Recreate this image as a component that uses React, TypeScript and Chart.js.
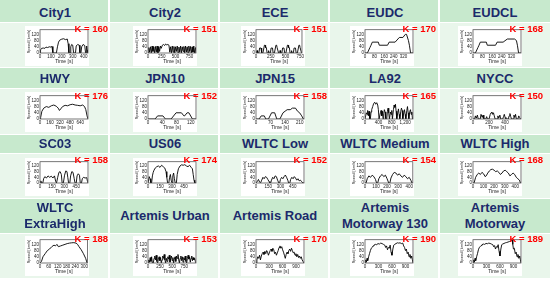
import React, { useEffect, useRef } from 'react';
import { Chart, registerables } from 'chart.js';

Chart.register(...registerables);
Chart.defaults.font.family = "'Liberation Sans', Arial, sans-serif";

type Pt = [number, number];

// ---------- data ----------
const titles = [
  'City1', 'City2', 'ECE', 'EUDC', 'EUDCL',
  'HWY', 'JPN10', 'JPN15', 'LA92', 'NYCC',
  'SC03', 'US06', 'WLTC Low', 'WLTC Medium', 'WLTC High',
  'WLTC\nExtraHigh', 'Artemis Urban', 'Artemis Road', 'Artemis\nMotorway 130', 'Artemis\nMotorway',
];
const kValues = [160, 151, 151, 170, 168, 176, 152, 158, 165, 150, 158, 174, 152, 154, 168, 188, 153, 170, 190, 189];

const yTicks = [0, 40, 80, 120];

const city1Ticks = [0, 100, 200, 300, 400];
const city2Ticks = [0, 250, 500, 750];
const eceTicks = [0, 250, 500, 750];
const eudcTicks = [0, 80, 160, 240, 320];
const eudclTicks = [0, 80, 160, 240, 320];
const hwyTicks = [0, 160, 320, 480, 640];
const jpn10Ticks = [0, 40, 80, 120];
const jpn15Ticks = [0, 70, 140, 210];
const la92Ticks = [0, 400, 800, 1200];
const nyccTicks = [0, 200, 400];
const sc03Ticks = [0, 150, 300, 450];
const us06Ticks = [0, 150, 300, 450];
const wltcLowTicks = [0, 150, 300, 450];
const wltcMedTicks = [0, 100, 200, 300, 400];
const wltcHighTicks = [0, 100, 200, 300, 400];
const wltcXHighTicks = [0, 60, 120, 180, 240, 300];
const artUrbanTicks = [0, 250, 500, 750];
const artRoadTicks = [0, 300, 600, 900];
const artMw130Ticks = [0, 300, 600, 900];
const artMwTicks = [0, 300, 600, 900];

const city1: Pt[] = [[0,0],[5,20],[15,30],[30,32],[45,30],[55,38],[70,35],[85,40],[100,38],[110,42],[118,0],[150,0],[160,40],[170,70],[180,82],[195,88],[215,92],[235,86],[250,90],[258,60],[265,0],[275,0],[282,40],[290,55],[300,50],[308,0],[325,0],[332,45],[345,55],[360,50],[366,0],[375,0],[382,40],[395,55],[410,48],[418,0],[422,0],[428,45],[432,20],[436,0],[440,0]];
const city2: Pt[] = [[0,0],[15,35],[30,5],[45,40],[60,0],[75,45],[90,10],[105,40],[120,0],[135,42],[150,5],[165,45],[180,0],[195,40],[210,10],[225,45],[240,30],[260,50],[280,55],[300,48],[320,58],[340,52],[360,55],[380,50],[395,5],[410,40],[425,0],[440,45],[455,5],[470,42],[485,0],[500,40],[515,10],[530,45],[545,0],[560,38],[575,5],[590,45],[605,0],[620,40],[635,10],[650,42],[665,0],[680,45],[695,5],[710,40],[725,0],[740,45],[755,10],[770,42],[785,0],[800,40],[815,5],[830,45],[845,0],[860,35],[870,0]];
const ece: Pt[] = [[0,0],[11,0],[15,15],[23,15],[28,0],[49,0],[61,32],[85,32],[96,0],[117,0],[143,50],[155,50],[163,35],[176,35],[188,0],[206,0],[210,15],[218,15],[223,0],[244,0],[256,32],[280,32],[291,0],[312,0],[338,50],[350,50],[358,35],[371,35],[383,0],[401,0],[405,15],[413,15],[418,0],[439,0],[451,32],[475,32],[486,0],[507,0],[533,50],[545,50],[553,35],[566,35],[578,0],[596,0],[600,15],[608,15],[613,0],[634,0],[646,32],[670,32],[681,0],[702,0],[728,50],[740,50],[748,35],[761,35],[773,0],[780,0]];
const eudc: Pt[] = [[0,0],[20,0],[41,35],[50,50],[61,70],[111,70],[119,50],[188,50],[201,70],[251,70],[286,100],[316,100],[336,120],[346,120],[362,80],[370,50],[380,0],[400,0]];
const eudcl: Pt[] = [[0,0],[20,0],[41,35],[50,50],[61,70],[111,70],[119,50],[188,50],[201,70],[251,70],[286,90],[346,90],[362,80],[370,50],[380,0],[400,0]];
const hwy: Pt[] = [[0,0],[10,10],[30,50],[60,70],[100,80],[140,75],[180,85],[220,90],[260,82],[290,70],[310,55],[330,65],[360,80],[400,88],[440,85],[480,92],[520,95],[560,90],[600,88],[640,85],[680,90],[710,80],[730,60],[750,20],[765,0]];
const jpn10: Pt[] = [[0,0],[20,0],[27,20],[42,20],[49,0],[65,0],[79,40],[94,40],[101,20],[103,20],[110,40],[115,40],[125,0],[135,0]];
const jpn15: Pt[] = [[0,0],[15,0],[25,20],[40,20],[47,0],[60,0],[75,40],[90,40],[100,0],[115,0],[130,40],[140,50],[150,60],[165,60],[175,70],[190,70],[200,50],[210,40],[220,20],[228,0],[231,0]];
const la92: Pt[] = [[0,0],[20,0],[40,40],[60,30],[80,55],[100,20],[120,50],[140,0],[160,0],[180,45],[200,60],[230,80],[260,100],[290,108],[320,95],[350,105],[380,90],[400,60],[420,0],[440,0],[460,40],[480,55],[500,20],[520,50],[540,0],[560,35],[580,60],[600,45],[620,0],[650,0],[670,50],[690,70],[710,40],[730,0],[760,45],[780,30],[800,55],[820,0],[850,60],[870,90],[890,75],[910,95],[930,50],[950,0],[980,40],[1000,65],[1020,30],[1040,0],[1070,50],[1090,70],[1110,55],[1130,0],[1160,40],[1180,60],[1200,30],[1220,0],[1250,55],[1270,80],[1290,40],[1310,0],[1340,50],[1360,60],[1380,30],[1400,45],[1420,0],[1435,0]];
const nycc: Pt[] = [[0,0],[20,0],[30,20],[40,5],[55,25],[65,0],[90,0],[100,30],[115,10],[125,25],[135,0],[160,0],[170,15],[180,0],[200,0],[215,30],[225,40],[235,45],[245,30],[255,40],[265,20],[275,0],[300,0],[310,20],[320,5],[335,25],[345,0],[370,0],[380,15],[390,30],[400,10],[410,0],[440,0],[450,20],[460,35],[470,15],[480,0],[500,0],[510,25],[520,10],[530,30],[540,0],[560,0],[570,20],[580,10],[590,0],[598,0]];
const sc03: Pt[] = [[0,0],[10,15],[20,0],[35,0],[45,30],[60,45],[80,35],[100,50],[120,40],[140,48],[160,35],[180,50],[195,10],[205,0],[220,40],[235,75],[250,80],[265,60],[275,0],[290,0],[305,55],[320,85],[335,80],[345,40],[355,0],[370,0],[380,50],[395,80],[410,75],[425,30],[435,0],[450,0],[460,50],[475,65],[490,55],[500,0],[515,0],[525,30],[540,40],[560,35],[580,38],[590,10],[596,0]];
const us06: Pt[] = [[0,0],[5,0],[15,45],[25,30],[35,0],[45,0],[55,50],[65,75],[75,90],[90,105],[110,115],[130,120],[150,110],[170,125],[190,115],[210,105],[225,80],[235,40],[245,0],[260,0],[270,40],[280,60],[290,20],[300,0],[310,50],[320,70],[330,30],[340,0],[355,0],[365,60],[380,100],[400,120],[420,128],[440,125],[460,129],[480,120],[500,115],[520,125],[540,110],[555,100],[565,60],[575,20],[585,0],[600,0]];
const wltcLow: Pt[] = [[0,0],[12,0],[20,15],[30,25],[45,5],[55,0],[70,20],[85,40],[100,30],[115,45],[130,40],[145,25],[160,10],[170,0],[180,0],[190,20],[205,40],[220,30],[235,50],[250,45],[265,20],[280,0],[290,0],[300,25],[315,40],[330,30],[345,45],[360,56],[375,40],[390,20],[400,0],[415,0],[425,25],[440,40],[455,30],[470,45],[485,35],[500,20],[515,30],[530,15],[545,20],[560,10],[575,0],[589,0]];
const wltcMed: Pt[] = [[0,0],[10,0],[20,30],[35,50],[50,40],[65,55],[80,45],[95,25],[105,0],[115,0],[125,30],[140,50],[155,60],[170,45],[185,55],[200,30],[215,0],[225,0],[235,35],[250,60],[265,75],[280,70],[295,55],[310,65],[325,50],[340,40],[355,55],[370,45],[385,30],[400,40],[415,20],[425,0],[433,0]];
const wltcHigh: Pt[] = [[0,0],[10,0],[25,40],[40,60],[55,70],[70,60],[85,75],[100,65],[115,45],[125,50],[140,70],[155,85],[170,95],[185,97],[200,90],[215,80],[230,85],[245,75],[260,60],[275,70],[290,85],[305,90],[320,80],[335,70],[350,50],[365,60],[380,70],[395,60],[410,40],[425,30],[440,20],[450,0],[455,0]];
const wltcXHigh: Pt[] = [[0,0],[10,10],[20,40],[35,60],[50,80],[65,90],[80,105],[95,115],[105,110],[115,120],[125,105],[140,110],[155,115],[170,120],[185,125],[200,128],[215,130],[230,131],[245,128],[255,120],[265,105],[280,85],[295,60],[310,30],[320,0],[323,0]];
const artUrban: Pt[] = [[0,0],[15,20],[30,5],[45,35],[60,10],[75,40],[90,0],[110,0],[125,30],[140,45],[155,20],[170,50],[185,10],[200,0],[215,25],[230,40],[245,15],[260,35],[275,0],[290,20],[305,45],[320,30],[335,55],[350,20],[365,0],[380,30],[395,10],[410,40],[425,25],[440,50],[455,5],[470,30],[485,45],[500,15],[515,35],[530,0],[545,25],[560,40],[575,10],[590,45],[605,30],[620,55],[635,20],[650,0],[665,30],[680,45],[695,15],[710,40],[725,5],[740,35],[755,20],[770,45],[785,10],[800,0],[815,30],[830,50],[845,25],[860,40],[875,5],[890,30],[905,45],[920,15],[935,35],[950,20],[965,30],[980,10],[993,0]];
const artRoad: Pt[] = [[0,0],[20,20],[40,40],[60,30],[80,50],[100,20],[120,45],[140,60],[160,70],[180,55],[200,75],[220,60],[240,80],[260,70],[280,50],[300,65],[320,80],[340,90],[360,75],[380,95],[400,85],[420,60],[440,70],[460,50],[480,65],[500,80],[520,100],[540,110],[560,95],[580,105],[600,85],[620,70],[640,50],[660,30],[680,55],[700,70],[720,60],[740,80],[760,90],[780,75],[800,95],[820,80],[840,65],[860,70],[880,50],[900,60],[920,40],[940,55],[960,35],[980,45],[1000,30],[1020,40],[1040,20],[1060,10],[1082,0]];
const artMw130: Pt[] = [[0,0],[15,20],[30,5],[45,30],[60,15],[80,40],[100,60],[120,80],[140,95],[160,100],[180,110],[200,115],[230,120],[260,118],[290,125],[320,122],[350,128],[380,125],[410,120],[440,115],[460,100],[480,110],[500,85],[520,100],[540,95],[560,115],[580,70],[600,50],[620,90],[640,115],[660,120],[690,125],[720,130],[750,128],[780,130],[810,125],[840,128],[860,110],[880,100],[900,80],[920,90],[940,60],[960,70],[980,40],[1000,55],[1020,30],[1040,45],[1055,20],[1068,0]];
const artMw: Pt[] = [[0,0],[15,20],[30,5],[45,30],[60,15],[80,40],[100,60],[120,85],[140,100],[160,105],[180,112],[200,118],[230,122],[260,120],[290,126],[320,124],[350,128],[380,126],[410,122],[440,118],[460,105],[480,112],[500,90],[520,105],[540,100],[560,118],[580,75],[600,45],[620,90],[640,118],[660,122],[690,126],[720,130],[750,132],[780,135],[810,138],[840,140],[860,145],[875,150],[885,120],[900,90],[920,95],[940,60],[960,70],[980,40],[1000,55],[1020,30],[1040,45],[1055,20],[1068,0]];

const series: Pt[][] = [city1, city2, ece, eudc, eudcl, hwy, jpn10, jpn15, la92, nycc, sc03, us06, wltcLow, wltcMed, wltcHigh, wltcXHigh, artUrban, artRoad, artMw130, artMw];
const xTicks: number[][] = [city1Ticks, city2Ticks, eceTicks, eudcTicks, eudclTicks, hwyTicks, jpn10Ticks, jpn15Ticks, la92Ticks, nyccTicks, sc03Ticks, us06Ticks, wltcLowTicks, wltcMedTicks, wltcHighTicks, wltcXHighTicks, artUrbanTicks, artRoadTicks, artMw130Ticks, artMwTicks];

// ---------- layout ----------
const colLeft = [0, 110, 220, 330, 440];
const colWidth = [108, 108, 108, 108, 110];
const headerTop = [0, 68, 135, 199];
const headerH = [22, 20, 18, 34];
const headerCenter = [13, 79, 144, 216];
const bodyTop = [23, 89, 154, 234];
const bodyH = [44, 45, 44, 44];
const chartLeft = [25, 133, 241, 350, 458];
const chartTop = [26, 92, 158, 236];
const chartH = [40, 40, 38, 40];
const chartW = 64;
const kTop = [24, 91, 155, 234];
const kRight = [108, 217, 327, 436, 543];

const HEADER_BG = '#c7e9cd';
const BODY_BG = '#e9f6eb';
const NAVY = '#1b2a6b';

const framePlugin = {
  id: 'frame',
  afterDraw(chart: any) {
    const { ctx, chartArea: a } = chart;
    ctx.save();
    ctx.strokeStyle = '#555';
    ctx.lineWidth = 0.8;
    ctx.strokeRect(a.left, a.top, a.right - a.left, a.bottom - a.top);
    ctx.restore();
  },
};

function Mini({ pts, ticks, w, h }: { pts: Pt[]; ticks: number[]; w: number; h: number }) {
  const ref = useRef<HTMLCanvasElement>(null);
  useEffect(() => {
    const chart = new Chart(ref.current as HTMLCanvasElement, {
      type: 'line',
      data: {
        datasets: [
          {
            data: pts.map((p) => ({ x: p[0], y: p[1] })),
            borderColor: '#000',
            borderWidth: 0.9,
            pointRadius: 0,
            tension: 0,
            fill: false,
          },
        ],
      },
      options: {
        animation: false,
        responsive: false,
        devicePixelRatio: 1,
        events: [],
        plugins: { legend: { display: false }, tooltip: { enabled: false } },
        layout: { padding: { top: 3, right: 1, left: 1, bottom: 1 } },
        scales: {
          x: {
            type: 'linear',
            min: 0,
            max: pts[pts.length - 1][0],
            afterBuildTicks: (s: any) => {
              s.ticks = ticks.map((v) => ({ value: v }));
            },
            afterFit: (s: any) => {
              s.height = 12;
            },
            grid: { display: false, drawTicks: false },
            border: { display: false },
            ticks: { font: { size: 4.5 }, color: '#222', padding: 1, maxRotation: 0, autoSkip: false },
            title: { display: true, text: 'Time [s]', font: { size: 5 }, color: '#222', padding: 0 },
          },
          y: {
            min: 0,
            max: 150,
            afterBuildTicks: (s: any) => {
              s.ticks = yTicks.map((v) => ({ value: v }));
            },
            afterFit: (s: any) => {
              s.width = 14;
            },
            grid: { display: false, drawTicks: false },
            border: { display: false },
            ticks: { font: { size: 4.5 }, color: '#222', padding: 1, autoSkip: false },
            title: { display: true, text: 'Speed [km/h]', font: { size: 4 }, color: '#222', padding: 0 },
          },
        },
      } as any,
      plugins: [framePlugin],
    });
    return () => chart.destroy();
  }, []);
  return <canvas ref={ref} width={w} height={h} style={{ display: 'block', width: w, height: h, background: '#fff' }} />;
}

export default function App() {
  const cells: React.ReactNode[] = [];
  titles.forEach((title, i) => {
    const r = Math.floor(i / 5);
    const c = i % 5;
    const lines = title.split('\n');
    cells.push(
      <div key={'h' + i} style={{ position: 'absolute', left: colLeft[c], top: headerTop[r], width: colWidth[c], height: headerH[r], background: HEADER_BG }} />,
      <div
        key={'t' + i}
        style={{
          position: 'absolute',
          left: colLeft[c],
          width: 110,
          top: headerCenter[r] - lines.length * 8,
          lineHeight: '16px',
          fontSize: 13,
          fontWeight: 'bold',
          color: NAVY,
          textAlign: 'center',
          whiteSpace: 'nowrap',
        }}
      >
        {lines.map((l, j) => (
          <div key={j}>{l}</div>
        ))}
      </div>,
      <div key={'b' + i} style={{ position: 'absolute', left: colLeft[c], top: bodyTop[r], width: colWidth[c], height: bodyH[r], background: BODY_BG }} />,
      <div key={'c' + i} style={{ position: 'absolute', left: chartLeft[c], top: chartTop[r] }}>
        <Mini pts={series[i]} ticks={xTicks[i]} w={chartW} h={chartH[r]} />
      </div>,
      <div
        key={'k' + i}
        style={{
          position: 'absolute',
          right: 550 - kRight[c],
          top: kTop[r],
          fontSize: 9.5,
          lineHeight: '10px',
          fontWeight: 'bold',
          color: '#ff0000',
          whiteSpace: 'nowrap',
        }}
      >
        {'K = ' + kValues[i]}
      </div>
    );
  });
  return (
    <div
      style={{
        position: 'absolute',
        left: 0,
        top: 0,
        width: 550,
        height: 283,
        background: '#fff',
        overflow: 'hidden',
        fontFamily: "'Liberation Sans', Arial, sans-serif",
      }}
    >
      {cells}
    </div>
  );
}
